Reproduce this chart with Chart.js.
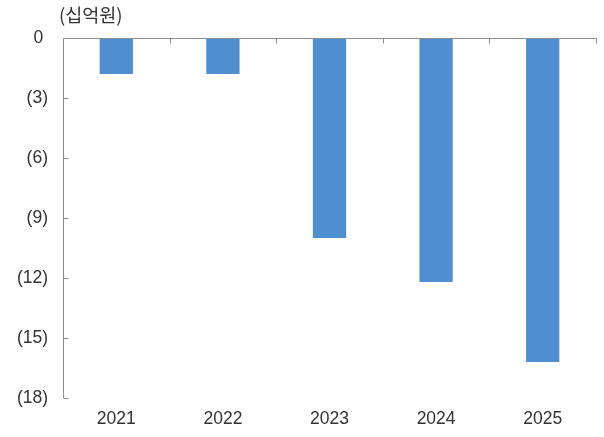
<!DOCTYPE html>
<html>
<head>
<meta charset="utf-8">
<script src="https://cdn.jsdelivr.net/npm/chart.js@4/dist/chart.umd.min.js"></script>
<style>
  html, body { margin: 0; padding: 0; background: #fff; }
  #wrap { width: 604px; height: 437px; position: relative; }
</style>
</head>
<body>
<div id="wrap"><canvas id="c" width="604" height="437"></canvas></div>
<script>
// Annual figures, 십억원 (losses shown as negatives)
const years = ['2021', '2022', '2023', '2024', '2025'];
const values = [-1.8, -1.8, -10.0, -12.2, -16.2];
const yTickValues = [0, -3, -6, -9, -12, -15, -18];
const yTickLabels = ['0 ', '(3)', '(6)', '(9)', '(12)', '(15)', '(18)'];
const unitLabel = '(십억원)';

const AXIS_COLOR = '#8c8c8c';
const TEXT_COLOR = '#333333';
const BAR_COLOR = '#4f8fd0';
const NUM_FONT = { family: '"Liberation Sans", Arial, sans-serif', size: 17.5 };

// Axis lines with inward tick marks, plus the unit caption
const axisDecor = {
  id: 'axisDecor',
  afterDatasetsDraw(chart) {
    const { ctx, chartArea: a, scales: { x, y } } = chart;
    const y0 = Math.round(y.getPixelForValue(0)) + 0.5;
    const left = Math.round(a.left) + 0.5;
    const right = Math.round(a.right) + 0.5;
    const bottom = Math.round(y.getPixelForValue(-18)) + 0.5;
    ctx.save();
    ctx.strokeStyle = AXIS_COLOR;
    ctx.lineWidth = 1;
    ctx.beginPath();
    // zero line along the top
    ctx.moveTo(left, y0);
    ctx.lineTo(right, y0);
    // value axis on the left
    ctx.moveTo(left, y0);
    ctx.lineTo(left, bottom);
    // category boundary ticks hanging below the zero line
    const step = x.getPixelForValue(1) - x.getPixelForValue(0);
    for (let i = 0; i < years.length; i++) {
      const px = Math.round(x.getPixelForValue(i) + step / 2) + 0.5;
      ctx.moveTo(px, y0);
      ctx.lineTo(px, y0 + 5);
    }
    // value ticks pointing into the plot
    yTickValues.forEach(v => {
      if (v === 0) return;
      const py = Math.round(y.getPixelForValue(v)) + 0.5;
      ctx.moveTo(left, py);
      ctx.lineTo(left + 5, py);
    });
    ctx.stroke();

    ctx.fillStyle = TEXT_COLOR;
    ctx.font = '18.5px "Noto Sans CJK KR", "Liberation Sans", sans-serif';
    ctx.textAlign = 'left';
    ctx.textBaseline = 'middle';
    ctx.fillText(unitLabel, 59, 15);
    ctx.restore();
  }
};

new Chart(document.getElementById('c'), {
  type: 'bar',
  data: {
    labels: years,
    datasets: [{
      data: values,
      backgroundColor: BAR_COLOR,
      borderWidth: 0,
      barPercentage: 0.312,
      categoryPercentage: 1.0
    }]
  },
  options: {
    responsive: false,
    animation: false,
    devicePixelRatio: 1,
    layout: { padding: { top: 38, right: 8, bottom: 0, left: 0 } },
    plugins: {
      legend: { display: false },
      tooltip: { enabled: false }
    },
    scales: {
      x: {
        position: 'bottom',
        grid: { display: false, drawTicks: false },
        border: { display: false },
        ticks: { color: TEXT_COLOR, font: NUM_FONT, padding: 11, maxRotation: 0 },
        afterFit(scale) { scale.height = 39; }
      },
      y: {
        min: -18,
        max: 0,
        grid: { display: false, drawTicks: false },
        border: { display: false },
        afterBuildTicks(scale) {
          scale.ticks = yTickValues.map(v => ({ value: v }));
        },
        ticks: {
          color: TEXT_COLOR,
          font: NUM_FONT,
          padding: 15,
          callback(value) {
            const i = yTickValues.indexOf(value);
            return i >= 0 ? yTickLabels[i] : '';
          }
        },
        afterFit(scale) { scale.width = 63; }
      }
    }
  },
  plugins: [axisDecor]
});
</script>
</body>
</html>
